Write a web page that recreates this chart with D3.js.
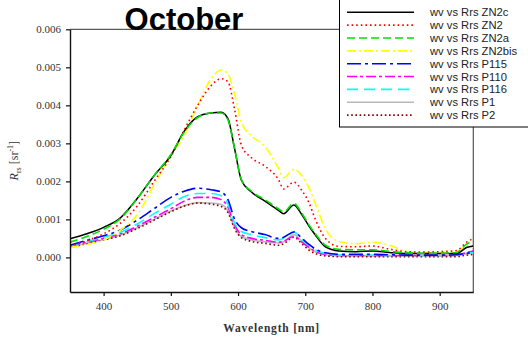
<!DOCTYPE html>
<html>
<head>
<meta charset="utf-8">
<script src="https://cdn.jsdelivr.net/npm/d3@7"></script>
<style>
  html, body { margin: 0; padding: 0; background: #fff; }
  svg { display: block; }
</style>
</head>
<body>
<svg id="chart" width="528" height="338"></svg>
<script>
// Remote-sensing reflectance spectra, October
const wavelengths = [350, 375, 400, 425, 450, 475, 500, 520, 540, 560, 575, 585, 595, 605, 620, 640, 660, 668, 683, 695, 705, 715, 730, 750, 775, 800, 825, 850, 875, 900, 925, 940, 950];

const rrsZN2c = [0.00049, 0.00062, 0.00079, 0.00104, 0.00155, 0.00215, 0.00268, 0.00332, 0.00370, 0.00380, 0.00382, 0.00365, 0.00285, 0.00203, 0.00172, 0.00148, 0.00124, 0.00115, 0.00138, 0.00112, 0.00084, 0.00059, 0.00028, 0.00017, 0.00015, 0.00017, 0.00013, 0.00010, 0.00010, 0.00010, 0.00010, 0.00026, 0.00030];
const rrsZN2 = [0.00030, 0.00044, 0.00062, 0.00090, 0.00135, 0.00200, 0.00265, 0.00335, 0.00400, 0.00452, 0.00470, 0.00462, 0.00388, 0.00295, 0.00262, 0.00240, 0.00205, 0.00180, 0.00198, 0.00176, 0.00146, 0.00100, 0.00050, 0.00029, 0.00028, 0.00030, 0.00022, 0.00015, 0.00014, 0.00015, 0.00018, 0.00040, 0.00050];
const rrsZN2a = [0.00040, 0.00055, 0.00074, 0.00102, 0.00155, 0.00215, 0.00270, 0.00330, 0.00368, 0.00380, 0.00380, 0.00362, 0.00285, 0.00205, 0.00174, 0.00152, 0.00128, 0.00120, 0.00142, 0.00116, 0.00087, 0.00062, 0.00032, 0.00021, 0.00020, 0.00020, 0.00016, 0.00012, 0.00011, 0.00011, 0.00013, 0.00035, 0.00041];
const rrsZN2bis = [0.00026, 0.00034, 0.00046, 0.00072, 0.00112, 0.00190, 0.00270, 0.00320, 0.00400, 0.00470, 0.00493, 0.00482, 0.00430, 0.00355, 0.00320, 0.00292, 0.00235, 0.00210, 0.00232, 0.00215, 0.00185, 0.00142, 0.00075, 0.00042, 0.00036, 0.00040, 0.00032, 0.00016, 0.00012, 0.00012, 0.00015, 0.00030, 0.00026];
const rrsP115 = [0.00032, 0.00045, 0.00057, 0.00072, 0.00098, 0.00128, 0.00158, 0.00174, 0.00182, 0.00178, 0.00172, 0.00152, 0.00100, 0.00078, 0.00068, 0.00060, 0.00050, 0.00053, 0.00067, 0.00050, 0.00035, 0.00022, 0.00012, 0.00008, 0.00008, 0.00008, 0.00007, 0.00006, 0.00006, 0.00006, 0.00007, 0.00011, 0.00013];
const rrsP110 = [0.00030, 0.00040, 0.00050, 0.00062, 0.00082, 0.00105, 0.00128, 0.00148, 0.00158, 0.00158, 0.00152, 0.00132, 0.00085, 0.00060, 0.00050, 0.00045, 0.00040, 0.00043, 0.00055, 0.00040, 0.00027, 0.00016, 0.00008, 0.00005, 0.00005, 0.00005, 0.00005, 0.00005, 0.00005, 0.00005, 0.00006, 0.00013, 0.00017];
const rrsP116 = [0.00031, 0.00042, 0.00053, 0.00066, 0.00088, 0.00115, 0.00140, 0.00160, 0.00168, 0.00168, 0.00162, 0.00140, 0.00090, 0.00068, 0.00060, 0.00052, 0.00046, 0.00050, 0.00067, 0.00048, 0.00032, 0.00020, 0.00010, 0.00006, 0.00006, 0.00006, 0.00005, 0.00005, 0.00005, 0.00005, 0.00006, 0.00010, 0.00012];
const rrsP1 = [0.00027, 0.00037, 0.00047, 0.00059, 0.00078, 0.00100, 0.00122, 0.00136, 0.00144, 0.00143, 0.00139, 0.00122, 0.00078, 0.00055, 0.00046, 0.00041, 0.00038, 0.00041, 0.00060, 0.00042, 0.00026, 0.00015, 0.00007, 0.00004, 0.00004, 0.00004, 0.00004, 0.00004, 0.00004, 0.00004, 0.00005, 0.00010, 0.00012];
const rrsP2 = [0.00026, 0.00036, 0.00046, 0.00057, 0.00076, 0.00098, 0.00120, 0.00135, 0.00143, 0.00140, 0.00134, 0.00118, 0.00075, 0.00052, 0.00042, 0.00037, 0.00032, 0.00036, 0.00053, 0.00036, 0.00020, 0.00010, 0.00004, 0.00002, 0.00002, 0.00002, 0.00002, 0.00002, 0.00002, 0.00002, 0.00002, 0.00006, 0.00008];

const seriesNames = ["wv vs Rrs ZN2c", "wv vs Rrs ZN2", "wv vs Rrs ZN2a", "wv vs Rrs ZN2bis", "wv vs Rrs P115", "wv vs Rrs P110", "wv vs Rrs P116", "wv vs Rrs P1", "wv vs Rrs P2"];
const seriesValues = [rrsZN2c, rrsZN2, rrsZN2a, rrsZN2bis, rrsP115, rrsP110, rrsP116, rrsP1, rrsP2];
const xTicks = [400, 500, 600, 700, 800, 900];
const yTicks = [0, 0.001, 0.002, 0.003, 0.004, 0.005, 0.006];

// Line styles per series
const styles = [
  { color: "#000000", dash: null, width: 1.5 },
  { color: "#ff0000", dash: "1.6,3", width: 1.6 },
  { color: "#00e000", dash: "8,4", width: 1.6 },
  { color: "#ffff00", dash: "9,3,2,3", width: 1.6 },
  { color: "#0000ff", dash: "14,4,3,4", width: 1.6 },
  { color: "#ff00ff", dash: "10,3,3,3", width: 1.6 },
  { color: "#00ffff", dash: "11,6", width: 1.6 },
  { color: "#b8b8b8", dash: null, width: 1.6 },
  { color: "#8b0000", dash: "1.6,2.6", width: 1.6 }
];

const svg = d3.select("#chart");
const plotLeft = 70, plotRight = 473.3, plotTop = 29.3, plotBottom = 292;

const x = d3.scaleLinear().domain([350, 950]).range([plotLeft, plotRight]);
const y = d3.scaleLinear().domain([-0.00091, 0.006]).range([plotBottom, plotTop]);

svg.append("defs").append("clipPath").attr("id", "plotClip")
  .append("rect").attr("x", plotLeft).attr("y", plotTop)
  .attr("width", plotRight - plotLeft).attr("height", plotBottom - plotTop);

// Frame (top and right)
svg.append("line").attr("x1", plotLeft).attr("x2", plotRight).attr("y1", plotTop).attr("y2", plotTop)
  .attr("stroke", "#333").attr("stroke-width", 1);
svg.append("line").attr("x1", plotRight).attr("x2", plotRight).attr("y1", plotTop).attr("y2", plotBottom)
  .attr("stroke", "#555").attr("stroke-width", 1.2);

// Spectra
const line = d3.line()
  .x((d, i) => x(wavelengths[i]))
  .y(d => y(d))
  .curve(d3.curveMonotoneX);

const plot = svg.append("g").attr("clip-path", "url(#plotClip)");
// stacking order of the spectra
const drawOrder = [7, 8, 5, 6, 4, 3, 1, 0, 2];
drawOrder.forEach(i => {
  plot.append("path")
    .datum(seriesValues[i])
    .attr("d", line)
    .attr("fill", "none")
    .attr("stroke", styles[i].color)
    .attr("stroke-width", styles[i].width)
    .attr("stroke-dasharray", styles[i].dash)
    .attr("stroke-linejoin", "round");
});

// Axes
const xAxis = svg.append("g").attr("transform", `translate(0,${plotBottom})`)
  .call(d3.axisBottom(x).tickValues(xTicks).tickFormat(d3.format("d")).tickSize(4).tickSizeOuter(0).tickPadding(6));
const yAxis = svg.append("g").attr("transform", `translate(${plotLeft},0)`)
  .call(d3.axisLeft(y).tickValues(yTicks).tickFormat(d3.format(".3f")).tickSize(4).tickSizeOuter(0).tickPadding(5));

[xAxis, yAxis].forEach(g => {
  g.select(".domain").attr("stroke", "#111").attr("stroke-width", 1.4);
  g.selectAll(".tick line").attr("stroke", "#111").attr("stroke-width", 1.2);
  g.selectAll(".tick text")
    .attr("font-family", "'Liberation Serif', 'Times New Roman', serif")
    .attr("font-size", 11)
    .attr("fill", "#333");
});

// Axis titles
svg.append("text")
  .attr("x", (plotLeft + plotRight) / 2).attr("y", 332)
  .attr("text-anchor", "middle")
  .attr("font-family", "'Liberation Serif', 'Times New Roman', serif")
  .attr("font-size", 11.5).attr("font-weight", "bold")
  .attr("letter-spacing", 0.8)
  .attr("fill", "#333")
  .text("Wavelength  [nm]");

const yTitle = svg.append("text")
  .attr("transform", `translate(18,${(plotTop + plotBottom) / 2}) rotate(-90)`)
  .attr("text-anchor", "middle")
  .attr("font-family", "'Liberation Serif', 'Times New Roman', serif")
  .attr("font-size", 12)
  .attr("fill", "#333");
yTitle.append("tspan").attr("font-style", "italic").text("R");
yTitle.append("tspan").attr("font-size", 8).attr("dy", 3).text("rs");
yTitle.append("tspan").attr("dy", -3).text("  [sr");
yTitle.append("tspan").attr("font-size", 8).attr("dy", -5).text("-1");
yTitle.append("tspan").attr("dy", 5).text("]");

// Title
svg.append("text")
  .attr("x", 184).attr("y", 30)
  .attr("text-anchor", "middle")
  .attr("font-family", "'Liberation Sans', Arial, sans-serif")
  .attr("font-size", 31).attr("font-weight", "bold")
  .attr("fill", "#000")
  .text("October");

// Legend
const legend = svg.append("g");
legend.append("rect")
  .attr("x", 339.5).attr("y", -2).attr("width", 200).attr("height", 129)
  .attr("fill", "#fff").attr("stroke", "#000").attr("stroke-width", 1);
seriesNames.forEach((name, i) => {
  const ly = 12.3 + i * 12.85;
  legend.append("line")
    .attr("x1", 347).attr("x2", 414).attr("y1", ly).attr("y2", ly)
    .attr("stroke", styles[i].color)
    .attr("stroke-width", styles[i].width)
    .attr("stroke-dasharray", styles[i].dash);
  legend.append("text")
    .attr("x", 430).attr("y", ly + 4)
    .attr("font-family", "'Liberation Sans', Arial, sans-serif")
    .attr("font-size", 11.2)
    .attr("fill", "#222")
    .text(name);
});
</script>
</body>
</html>
